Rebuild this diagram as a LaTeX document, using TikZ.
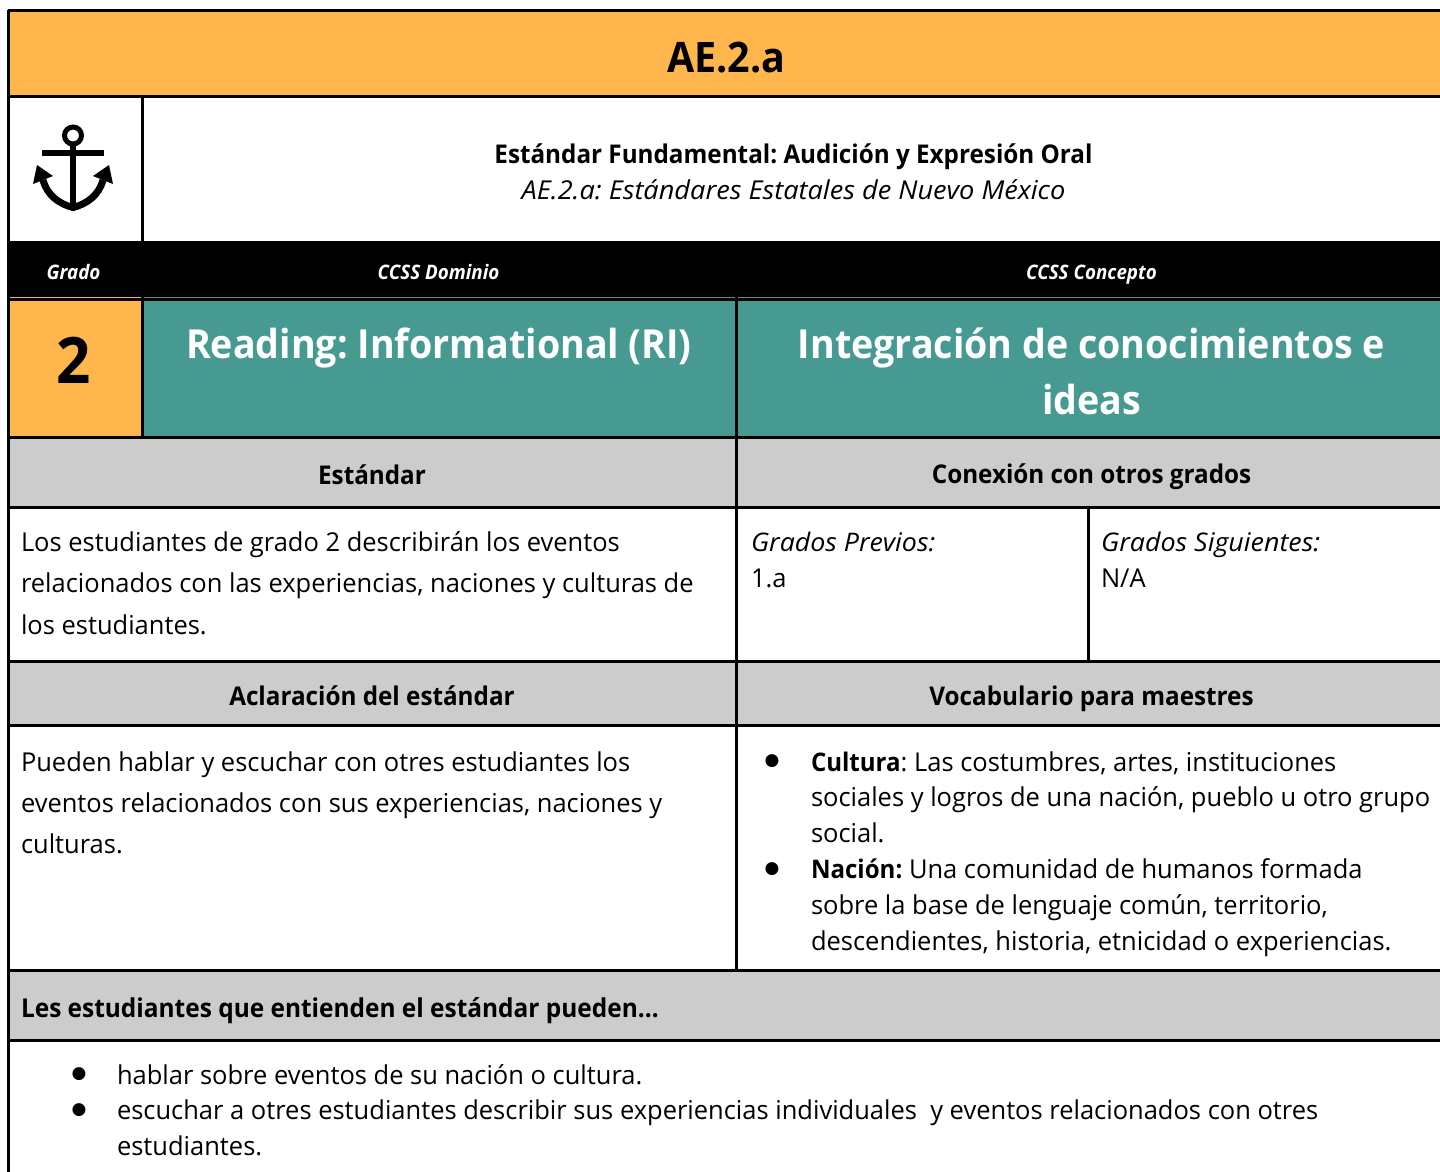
\documentclass[tikz,border=0pt]{standalone}
\usepackage{fontspec}
\setmainfont[FakeStretch=0.98,BoldFeatures={FakeStretch=0.94},ItalicFeatures={FakeStretch=1.045},BoldItalicFeatures={FakeStretch=0.94}]{Open Sans}
\newfontfamily\bulfont{DejaVu Sans}
\newcommand{\bw}[1]{{\fontsize{25.6}{26}\selectfont\bfseries #1}}
\definecolor{orangeh}{HTML}{FFB74D}
\definecolor{tealh}{HTML}{469A92}
\definecolor{greyh}{HTML}{CCCCCC}
\tikzset{
  x=1pt,y=-1pt,
  gridline/.style={line width=3pt,black},
  txt/.style={anchor=base west,inner sep=0pt,outer sep=0pt,font=\fontsize{26}{26}\selectfont},
  ctr/.style={anchor=base,inner sep=0pt,outer sep=0pt},
  head/.style={ctr,font=\fontsize{25.8}{26}\selectfont\bfseries},
  band/.style={ctr,white,font=\fontsize{20}{20}\selectfont\bfseries\itshape},
  bigw/.style={ctr,white,font=\fontsize{40}{40}\selectfont\bfseries},
  bul/.style={anchor=center,inner sep=0pt,font=\bulfont\fontsize{17}{17}\selectfont}
}
\begin{document}
\frenchspacing
\begin{tikzpicture}
\useasboundingbox (0,0) rectangle (1440,1172);
\fill[white] (0,0) rectangle (1440,1172);
% fills
\fill[orangeh] (8,11) rectangle (1440,96);
\fill[orangeh] (8,296) rectangle (142,437);
\fill[tealh] (142,296) rectangle (1440,437);
\fill[black] (8,241) rectangle (1440,296.5);
\fill[greyh] (8,437) rectangle (1440,507);
\fill[greyh] (8,661) rectangle (1440,725);
\fill[greyh] (8,970) rectangle (1440,1040);
% grid
\foreach \yy in {11,96,299,437,507,661,725,970,1040}
  \draw[gridline] (8,\yy) -- (1440,\yy);
\draw[gridline] (8,10) -- (8,1172);
\draw[gridline] (142,96) -- (142,241);
\draw[gridline] (142,297) -- (142,437);
\draw[gridline] (736,297) -- (736,970);
\draw[gridline] (1088,507) -- (1088,661);
% anchor
\draw[line width=5pt] (73,135.5) circle (8.5);
\draw[line width=6pt] (73,143) -- (73,208);
\draw[line width=6.5pt] (42,153) -- (104,153);
\draw[line width=7pt] (43,180) .. controls (47,195) and (59,204) .. (73,207.5) .. controls (87,204) and (99,195) .. (103,180);
\fill (73,211) -- (62,206) -- (84,206) -- cycle;
\fill[line join=round] (37,165) -- (53,176) -- (33,184) -- cycle;
\fill[line join=round] (109,165) -- (93,176) -- (113,184) -- cycle;
% texts
\node[ctr,font=\fontsize{42}{42}\selectfont\bfseries] (title) at (726.5,72.5) {AE.2.a};
\node[ctr,font=\fontsize{25.8}{26}\selectfont\bfseries] (std) at (793.5,163) {Estándar Fundamental: Audición y Expresión Oral};
\node[ctr,font=\fontsize{26}{26}\selectfont\itshape] (stdsub) at (793.5,199) {AE.2.a: Estándares Estatales de Nuevo México};
\node[band] (bgrado) at (73.5,279) {Grado};
\node[band] (bdom) at (438.5,279) {CCSS Dominio};
\node[band] (bcon) at (1091.5,279) {CCSS Concepto};
\node[ctr,font=\fontsize{64}{64}\selectfont\bfseries] (grade) at (73.5,383) {2};
\node[bigw] (dom) at (439,358) {Reading: Informational (RI)};
\node[bigw] (con1) at (1091.5,358) {Integración de conocimientos e};
\node[bigw] (con2) at (1091.5,414) {ideas};
\node[head] (hest) at (372,484) {Estándar};
\node[head] (hcon) at (1091.5,483) {Conexión con otros grados};
\node[txt] (e1) at (21,551) {Los estudiantes de grado 2 describirán los eventos};
\node[txt] (e2) at (21,592) {relacionados con las experiencias, naciones y culturas de};
\node[txt] (e3) at (21,634) {los estudiantes.};
\node[txt,font=\fontsize{25.6}{26}\selectfont\itshape] (gp) at (751,551) {Grados Previos:};
\node[txt] (gpv) at (751,587) {1.a};
\node[txt,font=\fontsize{25.7}{26}\selectfont\itshape] (gs) at (1101,551) {Grados Siguientes:};
\node[txt] (gsv) at (1101,587) {N/A};
\node[head] (hacl) at (372,705) {Aclaración del estándar};
\node[head] (hvoc) at (1091.5,705) {Vocabulario para maestres};
\node[txt] (a1) at (21,771) {Pueden hablar y escuchar con otres estudiantes los};
\node[txt] (a2) at (21,812) {eventos relacionados con sus experiencias, naciones y};
\node[txt] (a3) at (21,853) {culturas.};
\node[bul] (b1) at (772,761) {●};
\node[txt] (v1) at (811,771) {\bw{Cultura}: Las costumbres, artes, instituciones};
\node[txt] (v2) at (811,806) {sociales y logros de una nación, pueblo u otro grupo};
\node[txt] (v3) at (811,842) {social.};
\node[bul] (b2) at (772,869) {●};
\node[txt] (v4) at (811,878) {\bw{Nación:} Una comunidad de humanos formada};
\node[txt] (v5) at (811,914) {sobre la base de lenguaje común, territorio,};
\node[txt] (v6) at (811,950) {descendientes, historia, etnicidad o experiencias.};
\node[txt,font=\fontsize{26}{26}\selectfont\bfseries] (les) at (21,1017) {Les estudiantes que entienden el estándar pueden\ldots};
\node[bul] (b3) at (79,1074) {●};
\node[txt] (l1) at (117,1084) {hablar sobre eventos de su nación o cultura.};
\node[bul] (b4) at (79,1110) {●};
\node[txt] (l2) at (117,1119) {escuchar a otres estudiantes describir sus experiencias individuales\ \ y eventos relacionados con otres};
\node[txt] (l3) at (117,1155) {estudiantes.};
\end{tikzpicture}
\end{document}
